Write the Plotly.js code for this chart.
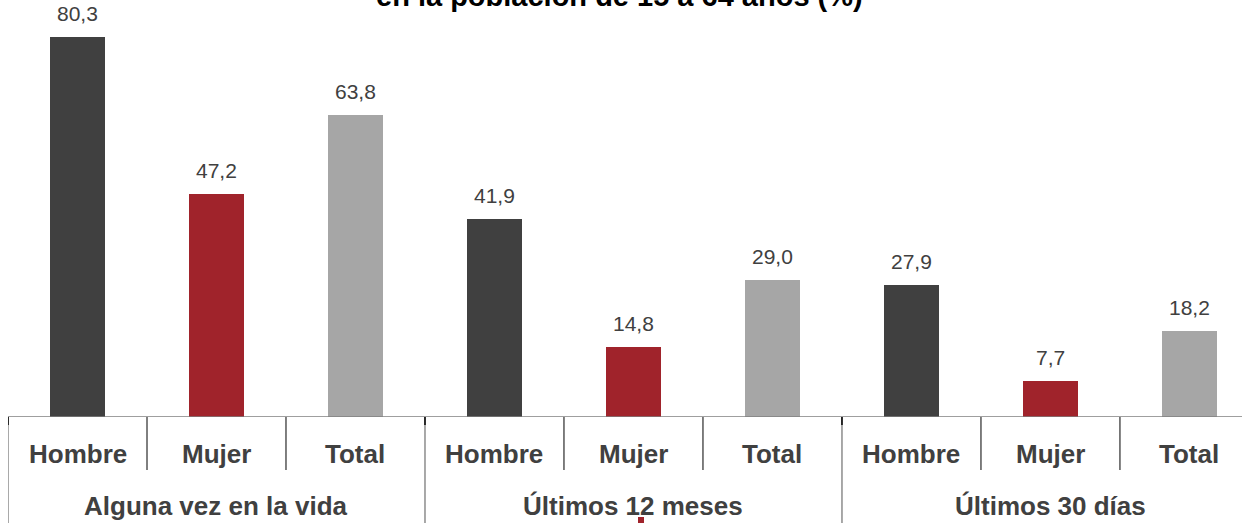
<!DOCTYPE html>
<html>
<head>
<meta charset="utf-8">
<script src="https://cdn.plot.ly/plotly-3.0.1.min.js"></script>
<style>html,body{margin:0;padding:0;background:#fff;}#chart{width:1242px;height:523px;}</style>
</head>
<body>
<div id="chart"></div>
<script>
// ---- data ----
const groups = ["Alguna vez en la vida", "Últimos 12 meses", "Últimos 30 días"];
const categories = ["Hombre", "Mujer", "Total"];
const hombre = [80.3, 41.9, 27.9];
const mujer = [47.2, 14.8, 7.7];
const total = [63.8, 29.0, 18.2];
const titleText = "en la población de 15 a 64 años (%)";

// ---- styles ----
const colors = {Hombre: "#404040", Mujer: "#a0232b", Total: "#a6a6a6"};
const seriesVals = {Hombre: hombre, Mujer: mujer, Total: total};

const xs = [], ys = [], cols = [], labels = [];
groups.forEach((g, gi) => {
  categories.forEach((c, ci) => {
    xs.push(gi * categories.length + ci);
    ys.push(seriesVals[c][gi]);
    cols.push(colors[c]);
    labels.push(c);
  });
});

const fmt = v => v.toFixed(1).replace('.', ',');

const trace = {
  type: 'bar',
  x: xs,
  y: ys,
  width: 0.40,
  marker: {color: cols, line: {width: 0}},
  hoverinfo: 'skip'
};

const annotations = [];
const shapes = [];
const plotH = 417;
const py = px => -(px) / plotH; // pixels below axis -> paper coord

// value labels
xs.forEach((x, i) => {
  annotations.push({
    x: x, y: ys[i], xref: 'x', yref: 'y',
    text: fmt(ys[i]), showarrow: false,
    yanchor: 'bottom', yshift: 10,
    font: {family: 'Liberation Sans, Arial, sans-serif', size: 21, color: '#404040'}
  });
  // category labels
  annotations.push({
    x: x, y: py(37), xref: 'x', yref: 'paper',
    text: '<b>' + labels[i] + '</b>', showarrow: false,
    yanchor: 'middle',
    font: {family: 'Liberation Sans, Arial, sans-serif', size: 26, color: '#404040'}
  });
});

// group labels
groups.forEach((g, gi) => {
  annotations.push({
    x: gi * categories.length + (categories.length - 1) / 2, y: py(89), xref: 'x', yref: 'paper',
    text: '<b>' + g + '</b>', showarrow: false, yanchor: 'middle',
    font: {family: 'Liberation Sans, Arial, sans-serif', size: 26, color: '#404040'}
  });
});

// title (only the lower line is visible at top edge, as in the source)
annotations.push({
  x: (619.5 - 8) / 1234, y: 1 + 4 / plotH, xref: 'paper', yref: 'paper',
  text: '<b>' + titleText + '</b>', showarrow: false, yanchor: 'middle', xanchor: 'center',
  font: {family: 'Liberation Sans, Arial, sans-serif', size: 29, color: '#000000'}
});

// axis baseline
shapes.push({type: 'line', xref: 'paper', yref: 'y', x0: 0, x1: 1.02, y0: 0, y1: 0,
  line: {color: '#7f7f7f', width: 1.5}});

// separators
const nCat = groups.length * categories.length;
for (let k = 0; k <= nCat; k++) {
  const xb = k - 0.5;
  if (k % categories.length === 0) {
    shapes.push({type: 'line', xref: 'x', yref: 'paper', x0: xb, x1: xb, y0: 0, y1: py(110),
      line: {color: '#8c8c8c', width: 1.5}});
    shapes.push({type: 'line', xref: 'x', yref: 'paper', x0: xb, x1: xb, y0: 0, y1: py(8),
      line: {color: '#000000', width: 1.5}});
  } else {
    shapes.push({type: 'line', xref: 'x', yref: 'paper', x0: xb, x1: xb, y0: 0, y1: py(53),
      line: {color: '#000000', width: 1}});
  }
}

// small stray red mark at bottom
shapes.push({type: 'rect', xref: 'paper', yref: 'paper',
  x0: (638 - 8) / 1234, x1: (644 - 8) / 1234, y0: py(100), y1: py(110),
  fillcolor: '#a0232b', line: {width: 0}});

const layout = {
  width: 1242, height: 523,
  margin: {l: 8, r: 0, t: 0, b: 106, pad: 0},
  paper_bgcolor: '#ffffff', plot_bgcolor: '#ffffff',
  showlegend: false,
  bargap: 0,
  xaxis: {range: [-0.5, 8.378], showticklabels: false, showgrid: false, zeroline: false,
    showline: false, ticks: '', fixedrange: true},
  yaxis: {range: [0, 88.1], showticklabels: false, showgrid: false, zeroline: false,
    showline: false, ticks: '', fixedrange: true},
  annotations: annotations,
  shapes: shapes
};

Plotly.newPlot('chart', [trace], layout, {displayModeBar: false, staticPlot: true});
</script>
</body>
</html>
